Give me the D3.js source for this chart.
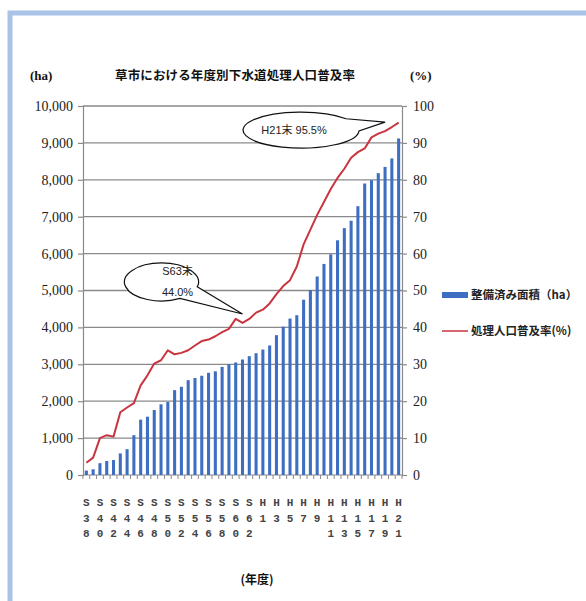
<!DOCTYPE html>
<html>
<head>
<meta charset="utf-8">
<script src="https://cdn.jsdelivr.net/npm/d3@7"></script>
<style>
  body { margin: 0; background: #fff; }
  svg { display: block; }
</style>
</head>
<body>
<svg id="chart" width="586" height="601"></svg>
<script>
// fiscal years, S38 (1963) .. H21 (2009)
const years = ['S38','S39','S40','S41','S42','S43','S44','S45','S46','S47','S48','S49','S50','S51','S52','S53','S54','S55','S56','S57','S58','S59','S60','S61','S62','S63',
  'H1','H2','H3','H4','H5','H6','H7','H8','H9','H10','H11','H12','H13','H14','H15','H16','H17','H18','H19','H20','H21'];

// 整備済み面積 (ha)
const area = [120, 155, 320, 380, 405, 585, 700, 1080, 1500, 1580, 1760, 1915, 1980, 2300, 2390, 2570, 2630, 2690, 2770, 2810, 2930, 3000, 3050, 3130, 3220, 3300,
  3400, 3510, 3790, 4020, 4240, 4330, 4750, 5010, 5380, 5720, 5980, 6360, 6690, 6890, 7285, 7900, 7990, 8180, 8350, 8580, 9120];

// 処理人口普及率 (%)
const rate = [3.3, 4.7, 10.0, 10.8, 10.4, 17.0, 18.3, 19.5, 24.3, 27.0, 30.2, 31.1, 33.8, 32.7, 33.1, 33.8, 35.1, 36.3, 36.7, 37.6, 38.7, 39.6, 42.3, 41.2, 42.3, 44.0,
  44.8, 46.5, 49.0, 51.2, 52.8, 56.5, 62.5, 66.5, 70.5, 74.0, 77.5, 80.5, 83.0, 86.0, 87.5, 88.5, 91.5, 92.5, 93.2, 94.3, 95.5];

const leftTicks = [0, 1000, 2000, 3000, 4000, 5000, 6000, 7000, 8000, 9000, 10000];
const rightTicks = [0, 10, 20, 30, 40, 50, 60, 70, 80, 90, 100];
const xTickLabels = ['S38','S40','S42','S44','S46','S48','S50','S52','S54','S56','S58','S60','S62',
  'H1','H3','H5','H7','H9','H11','H13','H15','H17','H19','H21'];

const callouts = [
  { at: 'S61', lines: ['S63末', '44.0%'] },
  { at: 'H19', lines: ['H21末 95.5%'] }
];

const title = '草市における年度別下水道処理人口普及率';
const legendItems = ['整備済み面積（ha）', '処理人口普及率(%)'];

const svg = d3.select('#chart');
const margin = { top: 106, right: 184, bottom: 126, left: 83 };
const W = 586, H = 601;
const width = W - margin.left - margin.right;
const height = H - margin.top - margin.bottom;

const barColor = '#3d6ec2';
const lineColor = '#c9353f';
const gridColor = '#8a8a8a';
const numFont = '"Liberation Serif", serif';
const jpFont = '"Noto Sans CJK JP", sans-serif';

// page frame
svg.append('rect').attr('x', 10).attr('y', 13).attr('width', W).attr('height', H)
  .attr('fill', 'none').attr('stroke', '#a9c3e6').attr('stroke-width', 5);

const g = svg.append('g').attr('transform', `translate(${margin.left},${margin.top})`);

const x = d3.scaleBand().domain(years).range([0, width]).paddingInner(0.55).paddingOuter(0.27);
const yL = d3.scaleLinear().domain([0, 10000]).range([height, 0]);
const yR = d3.scaleLinear().domain([0, 100]).range([height, 0]);

// --- Grid ---
g.append('g').selectAll('line').data(leftTicks.slice(1)).join('line')
  .attr('x1', 0).attr('x2', width)
  .attr('y1', d => yL(d)).attr('y2', d => yL(d))
  .attr('stroke', gridColor).attr('stroke-width', 1.3);

// --- Axes ---
const axL = g.append('g')
  .call(d3.axisLeft(yL).tickValues(leftTicks).tickSize(5).tickPadding(5).tickFormat(d3.format(',')));
const axR = g.append('g').attr('transform', `translate(${width},0)`)
  .call(d3.axisRight(yR).tickValues(rightTicks).tickSize(5).tickPadding(6));
[axL, axR].forEach(a => {
  a.selectAll('path, line').attr('stroke', gridColor).attr('stroke-width', 1.2);
  a.selectAll('text').attr('font-family', numFont).attr('font-size', 14).attr('fill', '#222');
});

// bottom axis: ticks at every band boundary
const step = x.step();
const x0 = x(years[0]) - (step - x.bandwidth()) / 2;
g.append('line').attr('x1', 0).attr('x2', width).attr('y1', height).attr('y2', height)
  .attr('stroke', gridColor).attr('stroke-width', 1.2);
g.append('g').selectAll('line').data(d3.range(years.length + 1)).join('line')
  .attr('x1', i => x0 + i * step).attr('x2', i => x0 + i * step)
  .attr('y1', height).attr('y2', height + 4)
  .attr('stroke', gridColor).attr('stroke-width', 1);

// --- Bars ---
g.append('g').selectAll('rect').data(area).join('rect')
  .attr('x', (d, i) => x(years[i]))
  .attr('y', d => yL(d))
  .attr('width', x.bandwidth())
  .attr('height', d => height - yL(d))
  .attr('fill', barColor);

// --- Line ---
const cx = i => x(years[i]) + x.bandwidth() / 2;
g.append('path').datum(rate)
  .attr('fill', 'none').attr('stroke', lineColor).attr('stroke-width', 2)
  .attr('stroke-linejoin', 'round')
  .attr('d', d3.line().x((d, i) => cx(i)).y(d => yR(d)));

// --- X labels (stacked characters) ---
const xl = g.append('g').attr('font-family', '"Liberation Mono", monospace')
  .attr('font-size', 11).attr('font-weight', 'bold').attr('fill', '#444').attr('text-anchor', 'middle');
xTickLabels.forEach(lab => {
  const px = cx(years.indexOf(lab));
  const chars = [lab[0]].concat(lab.slice(1).split(''));
  chars.forEach((c, k) => {
    xl.append('text').attr('x', px).attr('y', height + 31 + k * 15.5).text(c);
  });
});

// --- Callouts ---
function callout(c, dx, dy, rx, ry, a1, a2, textDx, lineH) {
  const i = years.indexOf(c.at);
  const tx = cx(i), ty = yR(rate[i]) - 9;
  const ex = tx + dx, ey = ty + dy;
  const pt = a => [ex + rx * Math.cos(a * Math.PI / 180), ey + ry * Math.sin(a * Math.PI / 180)];
  const A = pt(a1), B = pt(a2);
  g.append('path')
    .attr('d', `M${A[0]},${A[1]} A${rx},${ry} 0 1 0 ${B[0]},${B[1]} L${tx},${ty} Z`)
    .attr('fill', '#fff').attr('stroke', '#111').attr('stroke-width', 1.2);
  const n = c.lines.length;
  c.lines.forEach((t, k) => {
    g.append('text').attr('x', ex + textDx).attr('y', ey + (k - (n - 1) / 2) * lineH + 4)
      .attr('text-anchor', 'middle').attr('font-family', '"Liberation Sans", "Noto Sans CJK JP", sans-serif')
      .attr('font-size', 11).attr('fill', '#222').text(t);
  });
}
callout(callouts[0], -81, -32, 37, 19, 15, 60, 16, 21);
callout(callouts[1], -84, 8, 58, 18, -39, 3, -7, 0);

// --- Titles ---
svg.append('text').attr('x', 235).attr('y', 80).attr('text-anchor', 'middle')
  .attr('font-family', jpFont).attr('font-weight', 'bold').attr('font-size', 12.5)
  .attr('textLength', 240).attr('fill', '#111').text(title);
svg.append('text').attr('x', 30).attr('y', 80).attr('font-family', numFont).attr('font-weight', 'bold')
  .attr('font-size', 13).attr('fill', '#111').text('(ha)');
svg.append('text').attr('x', 410).attr('y', 80).attr('font-family', numFont).attr('font-weight', 'bold')
  .attr('font-size', 13).attr('fill', '#111').text('(%)');
svg.append('text').attr('x', 257).attr('y', 584).attr('text-anchor', 'middle')
  .attr('font-family', jpFont).attr('font-weight', 'bold').attr('font-size', 12)
  .attr('fill', '#111').text('(年度)');

// --- Legend ---
const lg = svg.append('g').attr('transform', 'translate(442,295)');
lg.append('rect').attr('x', 0).attr('y', -3).attr('width', 26).attr('height', 6).attr('fill', barColor);
lg.append('line').attr('x1', 0).attr('x2', 26).attr('y1', 36).attr('y2', 36)
  .attr('stroke', lineColor).attr('stroke-width', 1.5);
lg.selectAll('text').data(legendItems).join('text')
  .attr('x', 29).attr('y', (d, i) => i * 36 + 4)
  .attr('font-family', jpFont).attr('font-size', 11.5).attr('font-weight', 'bold')
  .attr('fill', '#222').text(d => d);
</script>
</body>
</html>
